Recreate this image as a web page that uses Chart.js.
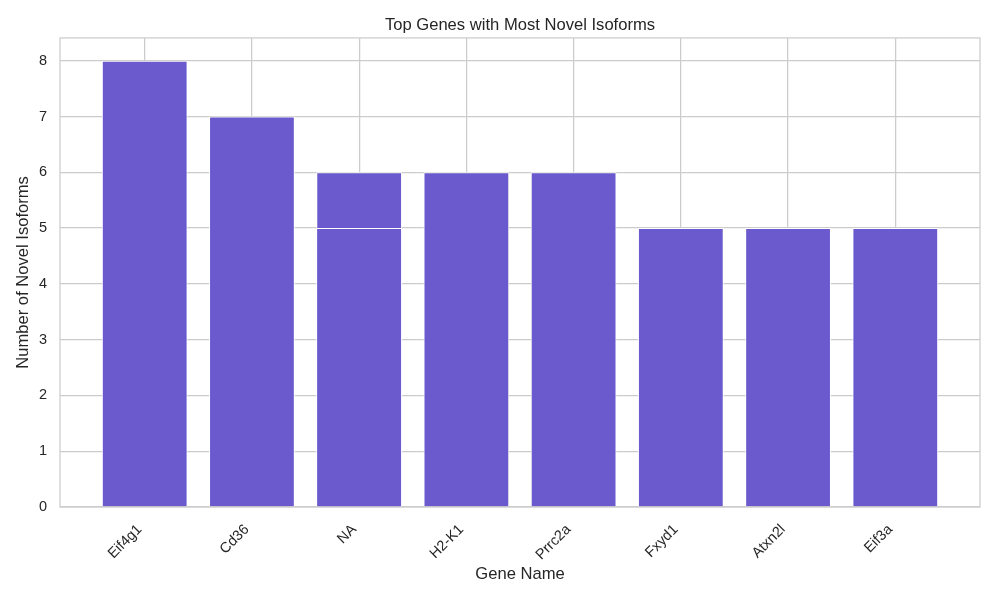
<!DOCTYPE html>
<html>
<head>
<meta charset="utf-8">
<script src="https://cdn.jsdelivr.net/npm/chart.js@4"></script>
<style>
  html, body { margin: 0; padding: 0; background: #fff; }
  #wrap { width: 1000px; height: 600px; }
</style>
</head>
<body>
<div id="wrap"><canvas id="chart"></canvas></div>
<script>
// Gene names and novel isoform counts
const genes = ['Eif4g1', 'Cd36', 'NA', 'H2-K1', 'Prrc2a', 'Fxyd1', 'Atxn2l', 'Eif3a'];
const counts = [8, 7, 6, 6, 6, 5, 5, 5];
// second "NA" row drawn on top of the first one
const overlayCounts = [null, null, 5, null, null, null, null, null];
const yTicks = [0, 1, 2, 3, 4, 5, 6, 7, 8];

const BAR = '#6A5ACD';
const GRID = '#cccccc';
const TEXT = '#262626';
const FONT = "'Liberation Sans', Arial, sans-serif";

// light frame around the plot area, like the seaborn whitegrid spines
const frame = {
    id: 'frame',
    afterDatasetsDraw(chart) {
        const { ctx, chartArea: a } = chart;
        ctx.save();
        ctx.strokeStyle = GRID;
        ctx.lineWidth = 1.25;
        ctx.strokeRect(a.left, a.top, a.right - a.left, a.bottom - a.top);
        ctx.restore();
    }
};

const toPoints = arr => arr.map((v, i) => ({ x: i, y: v }));

new Chart(document.getElementById('chart').getContext('2d'), {
    type: 'bar',
    data: {
        datasets: [
            {
                // listed first so it is painted over the main bars
                data: toPoints(overlayCounts),
                backgroundColor: BAR,
                borderColor: '#ffffff',
                borderWidth: 1,
                barPercentage: 1,
                categoryPercentage: 0.8
            },
            {
                data: toPoints(counts),
                backgroundColor: BAR,
                borderColor: '#ffffff',
                borderWidth: 1,
                barPercentage: 1,
                categoryPercentage: 0.8
            }
        ]
    },
    options: {
        responsive: true,
        maintainAspectRatio: false,
        animation: false,
        layout: { padding: { top: 6, right: 20, left: 13, bottom: 16 } },
        plugins: {
            legend: { display: false },
            tooltip: { enabled: false },
            title: {
                display: true,
                fullSize: false,
                text: 'Top Genes with Most Novel Isoforms',
                color: TEXT,
                font: { family: FONT, size: 16.6, weight: 'normal' },
                padding: { top: 9, bottom: 3 }
            }
        },
        scales: {
            x: {
                type: 'linear',
                stacked: true,
                min: -0.79,
                max: 7.79,
                offset: false,
                afterBuildTicks: axis => { axis.ticks = genes.map((_, i) => ({ value: i })); },
                afterFit: axis => {
                    axis.height = 77;
                    axis.paddingLeft = 0;
                    axis.paddingRight = 0;
                },
                ticks: {
                    autoSkip: false,
                    maxRotation: 45,
                    minRotation: 45,
                    color: TEXT,
                    font: { family: FONT, size: 14.5 },
                    padding: 14,
                    labelOffset: -5,
                    callback: v => genes[v]
                },
                grid: { color: GRID, lineWidth: 1.25, drawTicks: false, offset: false },
                border: { display: false },
                title: {
                    display: true,
                    text: 'Gene Name',
                    color: TEXT,
                    font: { family: FONT, size: 16.6 },
                    padding: { top: 0, bottom: 0 }
                }
            },
            y: {
                min: 0,
                max: 8.41,
                afterBuildTicks: axis => { axis.ticks = yTicks.map(v => ({ value: v })); },
                afterFit: axis => { axis.width = 47; },
                ticks: {
                    color: TEXT,
                    font: { family: FONT, size: 14.5 },
                    padding: 13
                },
                grid: { color: GRID, lineWidth: 1.25, drawTicks: false },
                border: { display: false },
                title: {
                    display: true,
                    text: 'Number of Novel Isoforms',
                    color: TEXT,
                    font: { family: FONT, size: 16.6 },
                    padding: { top: 0, bottom: 0 }
                }
            }
        }
    },
    plugins: [frame]
});
</script>
</body>
</html>
